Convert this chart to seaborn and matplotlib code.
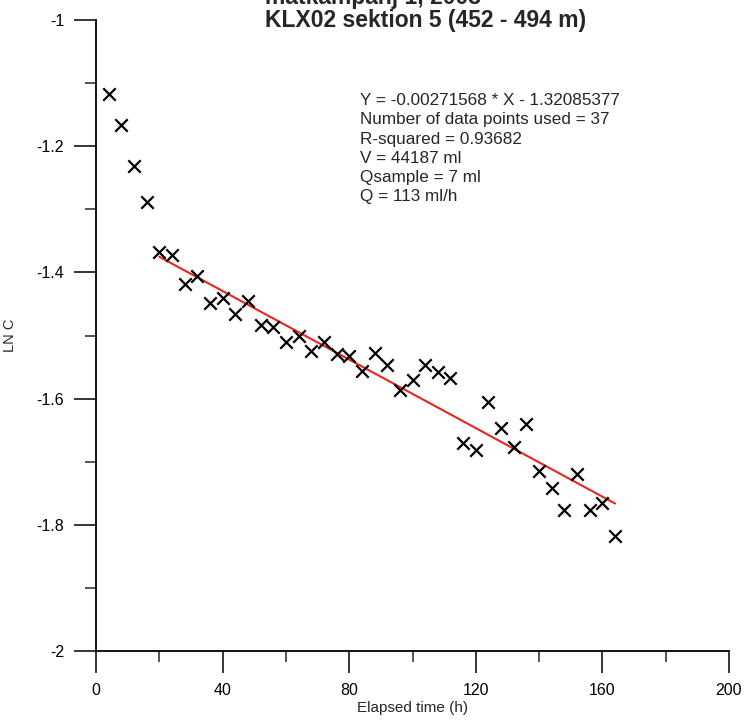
import numpy as np
import pandas as pd
import seaborn as sns
import matplotlib.pyplot as plt
from matplotlib.ticker import MultipleLocator

# elapsed time (h) and LN C
time_h = [4, 8, 12, 16, 20, 24, 28, 32, 36, 40, 44, 48, 52, 56, 60, 64, 68, 72,
          76, 80, 84, 88, 92, 96, 100, 104, 108, 112, 116, 120, 124, 128, 132,
          136, 140, 144, 148, 152, 156, 160, 164]
ln_c = [-1.117, -1.166, -1.232, -1.289, -1.368, -1.373, -1.419, -1.406, -1.449,
        -1.441, -1.466, -1.445, -1.483, -1.487, -1.510, -1.501, -1.524, -1.510,
        -1.529, -1.532, -1.556, -1.528, -1.547, -1.586, -1.570, -1.547, -1.558,
        -1.567, -1.671, -1.682, -1.605, -1.646, -1.676, -1.640, -1.714, -1.742,
        -1.777, -1.719, -1.777, -1.766, -1.818]

# regression (from the chart's annotation)
slope = -0.00271568
intercept = -1.32085377
fit_range = [20, 164]

info_lines = [
    "Y = -0.00271568 * X - 1.32085377",
    "Number of data points used = 37",
    "R-squared = 0.93682",
    "V = 44187 ml",
    "Qsample = 7 ml",
    "Q = 113 ml/h",
]

sns.set_style("ticks")
plt.rcParams['font.family'] = ['Liberation Sans', 'DejaVu Sans']

df = pd.DataFrame({"t": time_h, "lnc": ln_c})
fit = pd.DataFrame({"t": fit_range})
fit["lnc"] = slope * fit["t"] + intercept

fig = plt.figure(figsize=(7.44, 7.2), dpi=100)
ax = fig.add_axes([96 / 744, 69 / 720, 633 / 744, 631 / 720])

sns.lineplot(data=fit, x="t", y="lnc", color="#e8251f", lw=1.5, ax=ax)
sns.scatterplot(data=df, x="t", y="lnc", marker="x", s=80, color="black",
                linewidth=1.6, ax=ax, zorder=3)

ax.set_xlim(0, 200)
ax.set_ylim(-2, -1)
ax.set_xticks([0, 40, 80, 120, 160, 200], ["0", "40", "80", "120", "160", "200"])
ax.set_yticks([-2, -1.8, -1.6, -1.4, -1.2, -1],
              ["-2", "-1.8", "-1.6", "-1.4", "-1.2", "-1"])
ax.xaxis.set_minor_locator(MultipleLocator(20))
ax.yaxis.set_minor_locator(MultipleLocator(0.1))
ax.tick_params(which="major", length=16, width=1.1, direction="out",
               labelsize=11.5, pad=7, colors="black")
ax.tick_params(which="minor", length=8, width=1.1, direction="out")
for side in ["top", "right"]:
    ax.spines[side].set_visible(False)
for side in ["left", "bottom"]:
    ax.spines[side].set_linewidth(1.3)
    ax.spines[side].set_color("black")

ax.set_xlabel("Elapsed time (h)", fontsize=11, labelpad=2)
ax.set_ylabel("LN C", fontsize=10.5)
ax.yaxis.set_label_coords(-0.125, 0.5)

for i, line in enumerate(info_lines):
    fig.text(360 / 744, (720 - 105 - 19.3 * i) / 720, line, fontsize=12.3,
             ha="left", va="baseline")

fig.text(265 / 744, (720 - 4) / 720, "mätkampanj 1, 2003", fontsize=16.5,
         fontweight="bold", ha="left", va="baseline")
fig.text(265 / 744, (720 - 27) / 720, "KLX02 sektion 5 (452 - 494 m)",
         fontsize=16.5, fontweight="bold", ha="left", va="baseline")

fig.savefig("out.png", dpi=100)
